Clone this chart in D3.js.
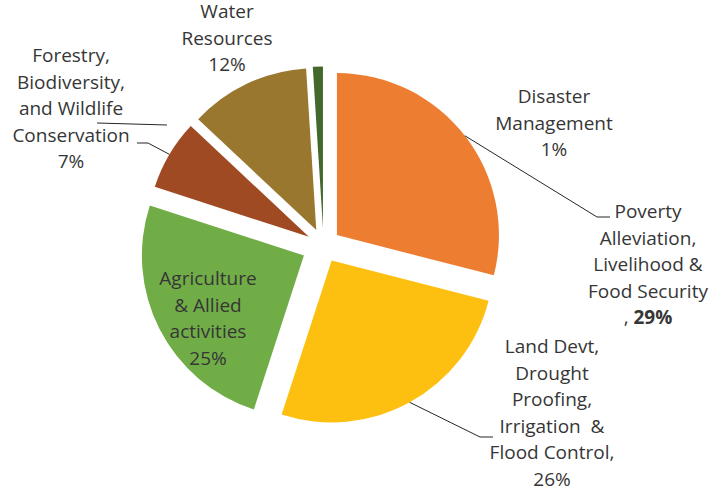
<!DOCTYPE html>
<html>
<head>
<meta charset="utf-8">
<script src="https://cdn.jsdelivr.net/npm/d3@7/dist/d3.min.js"></script>
<style>
  html, body { margin: 0; padding: 0; background: #fff; }
  .pie__label { font-family: "Open Sans", sans-serif; font-size: 19px; fill: #363636; }
  .pie__leader { fill: none; stroke: #262626; stroke-width: 1; }
</style>
</head>
<body>
<div id="chart"></div>
<script>
// slices, clockwise from 12 o'clock
const categories = [
  `Poverty Alleviation, Livelihood & Food Security`,
  `Land Devt, Drought Proofing, Irrigation & Flood Control`,
  `Agriculture & Allied activities`,
  `Forestry, Biodiversity, and Wildlife Conservation`,
  `Water Resources`,
  `Disaster Management`
];
const shares = [29, 26, 25, 7, 12, 1];
const colors = [`#ED7D31`, `#FDC010`, `#70AD47`, `#9F4A22`, `#9A772E`, `#43682B`];
const explode = [17, 17, 22, 17, 17, 17];

// label text, one entry per line; the percentage line is added after
const labelLines = [
  [`Poverty`, `Alleviation,`, `Livelihood &`, `Food Security`],
  [`Land Devt,`, `Drought`, `Proofing,`, `Irrigation\u00a0 &`, `Flood Control,`],
  [`Agriculture`, `& Allied`, `activities`],
  [`Forestry,`, `Biodiversity,`, `and Wildlife`, `Conservation`],
  [`Water`, `Resources`],
  [`Disaster`, `Management`]
];
const labelPcts = [`29%`, `26%`, `25%`, `7%`, `12%`, `1%`];

const width = 712;
const height = 496;
const cx = 323.5;
const cy = 245.5;
const radius = 162;
const lineH = 26.5;

// label anchor (centre x, first baseline) and leader elbow per slice
const labelPos = [
  { x: 648, y: 218, elbow: [597, 217], end: [610, 217] },
  { x: 552, y: 353, elbow: [480, 437], end: [493, 437] },
  { x: 208, y: 285 },
  { x: 71, y: 62, elbow: [148, 143], end: [137, 143] },
  { x: 227, y: 18 },
  { x: 554, y: 103 }
];

const svg = d3.select(`#chart`).append(`svg`)
    .attr(`width`, width)
    .attr(`height`, height);

const pie = d3.pie().sort(null).value((d) => d);
const arcs = pie(shares);
const arc = d3.arc().innerRadius(0).outerRadius(radius);

const offset = (d, r) => {
  const a = (d.startAngle + d.endAngle) / 2;
  return [Math.sin(a) * r, -Math.cos(a) * r];
};

const g = svg.append(`g`).attr(`transform`, `translate(${cx},${cy})`);

g.selectAll(`path`)
    .data(arcs)
  .enter().append(`path`)
    .attr(`d`, arc)
    .attr(`fill`, (d, i) => colors[i])
    .attr(`transform`, (d, i) => `translate(${offset(d, explode[i])})`);

// leader lines from the arc midpoint to the label
arcs.forEach((d, i) => {
  const p = labelPos[i];
  if (!p.elbow) return;
  const o = offset(d, explode[i]);
  const m = offset(d, radius);
  const start = [cx + o[0] + m[0], cy + o[1] + m[1]];
  svg.append(`path`)
      .attr(`class`, `pie__leader`)
      .attr(`d`, d3.line()([start, p.elbow, p.end]));
});

// stray leader under the forestry label
svg.append(`path`)
    .attr(`class`, `pie__leader`)
    .attr(`d`, d3.line()([[labelPos[3].x + 26, 123], [labelPos[3].x + 96, 125]]));

labelLines.forEach((lines, i) => {
  const p = labelPos[i];
  const t = svg.append(`text`)
      .attr(`class`, `pie__label`)
      .attr(`text-anchor`, `middle`);
  lines.forEach((line, j) => {
    t.append(`tspan`)
        .attr(`x`, p.x)
        .attr(`y`, p.y + j * lineH)
        .text(line);
  });
  const last = t.append(`tspan`)
      .attr(`x`, p.x)
      .attr(`y`, p.y + lines.length * lineH);
  if (i === 0) {
    last.append(`tspan`).text(`, `);
    last.append(`tspan`).attr(`font-weight`, `bold`).text(labelPcts[i]);
  } else {
    last.text(labelPcts[i]);
  }
});
</script>
</body>
</html>
